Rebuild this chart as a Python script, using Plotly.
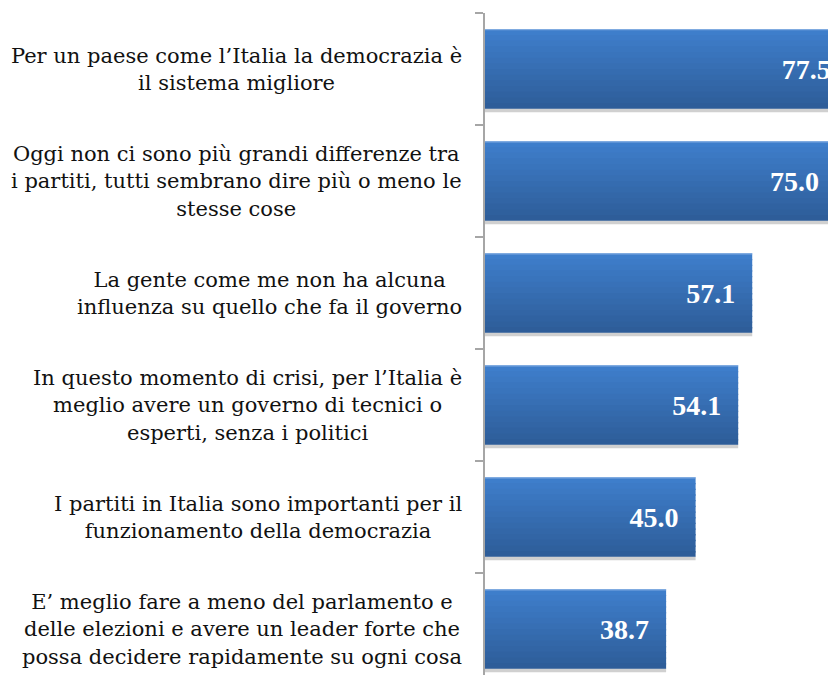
import plotly.graph_objects as go

# ---- data ----
categories = [
    "Per un paese come l’Italia la democrazia è<br>il sistema migliore",
    "Oggi non ci sono più grandi differenze tra<br>i partiti, tutti sembrano dire più o meno le<br>stesse cose",
    "La gente come me non ha alcuna<br>influenza su quello che fa il governo",
    "In questo momento di crisi, per l’Italia è<br>meglio avere un governo di tecnici o<br>esperti, senza i politici",
    "I partiti in Italia sono importanti per il<br>funzionamento della democrazia",
    "E’ meglio fare a meno del parlamento e<br>delle elezioni e avere un leader forte che<br>possa decidere rapidamente su ogni cosa",
]
values = [77.5, 75.0, 57.1, 54.1, 45.0, 38.7]

# ---- style ----
LABEL_FONT = "DejaVu Serif, serif"
VALUE_FONT = "Liberation Serif, Times New Roman, serif"
X_MAX = 75.0
LABEL_SHIFT = 3.0          # value-label inset (axis units on the overlay axis)
BAR_W = 0.71
N_STRIPES = 14
OVERLAP = 0.012
TOP = (62, 126, 203)
BOT = (46, 93, 153)

fig = go.Figure()

# soft shadow under each bar
fig.add_trace(go.Bar(
    y=categories, x=values, orientation="h",
    width=0.035, offset=BAR_W / 2 - 0.005,
    marker=dict(color="rgba(120,120,120,0.35)", line=dict(width=0)),
    hoverinfo="skip", showlegend=False,
))

# vertical gradient built from overlapping thin stripes
step = BAR_W / N_STRIPES
for i in range(N_STRIPES):
    t = i / (N_STRIPES - 1)
    c = tuple(round(TOP[k] + (BOT[k] - TOP[k]) * t) for k in range(3))
    w = step + (OVERLAP if i < N_STRIPES - 1 else 0)
    fig.add_trace(go.Bar(
        y=categories, x=values, orientation="h",
        width=w,
        offset=-BAR_W / 2 + i * step,
        marker=dict(color=f"rgb{c}", line=dict(width=0)),
        hoverinfo="skip", showlegend=False,
    ))

# thin light edge along the top of each bar
fig.add_trace(go.Bar(
    y=categories, x=values, orientation="h",
    width=0.01, offset=-BAR_W / 2,
    marker=dict(color="rgba(140,180,230,0.8)", line=dict(width=0)),
    hoverinfo="skip", showlegend=False,
))

# value labels on an overlaying axis shifted a little, so they sit inset
fig.add_trace(go.Bar(
    y=categories, x=values, orientation="h", xaxis="x2",
    width=BAR_W, offset=-BAR_W / 2,
    marker=dict(color="rgba(0,0,0,0)", line=dict(width=0)),
    text=[f"{v:.1f}" for v in values],
    textposition="inside", insidetextanchor="end",
    textfont=dict(family=VALUE_FONT, size=28, color="white", weight="bold"),
    cliponaxis=True,
    hoverinfo="skip", showlegend=False,
))

# category labels, centered multi-line
for cat in categories:
    fig.add_annotation(
        x=0, xref="paper", y=cat, yref="y",
        text=cat, showarrow=False,
        xanchor="right", yanchor="middle", align="center",
        xshift=-21,
        font=dict(family=LABEL_FONT, size=21, color="#111111"),
    )

# the page body has an 8px margin: the figure starts at (8, 8)
fig.update_layout(
    width=828, height=667,
    margin=dict(l=477, r=0, t=5, b=0),
    paper_bgcolor="white", plot_bgcolor="white",
    barmode="overlay",
    xaxis=dict(range=[0, X_MAX], visible=False, fixedrange=True),
    xaxis2=dict(range=[LABEL_SHIFT, X_MAX + LABEL_SHIFT], overlaying="x",
                visible=False, fixedrange=True),
    yaxis=dict(
        type="category",
        categoryorder="array", categoryarray=categories,
        range=[5.41, -0.5],
        showticklabels=False,
        showline=True, linecolor="#a6a6a6", linewidth=2,
        ticks="outside", tickson="boundaries", ticklen=8,
        tickcolor="#a6a6a6", tickwidth=1.5,
        showgrid=False, zeroline=False,
    ),
    font=dict(family=LABEL_FONT),
)

fig.write_html("out.html")
